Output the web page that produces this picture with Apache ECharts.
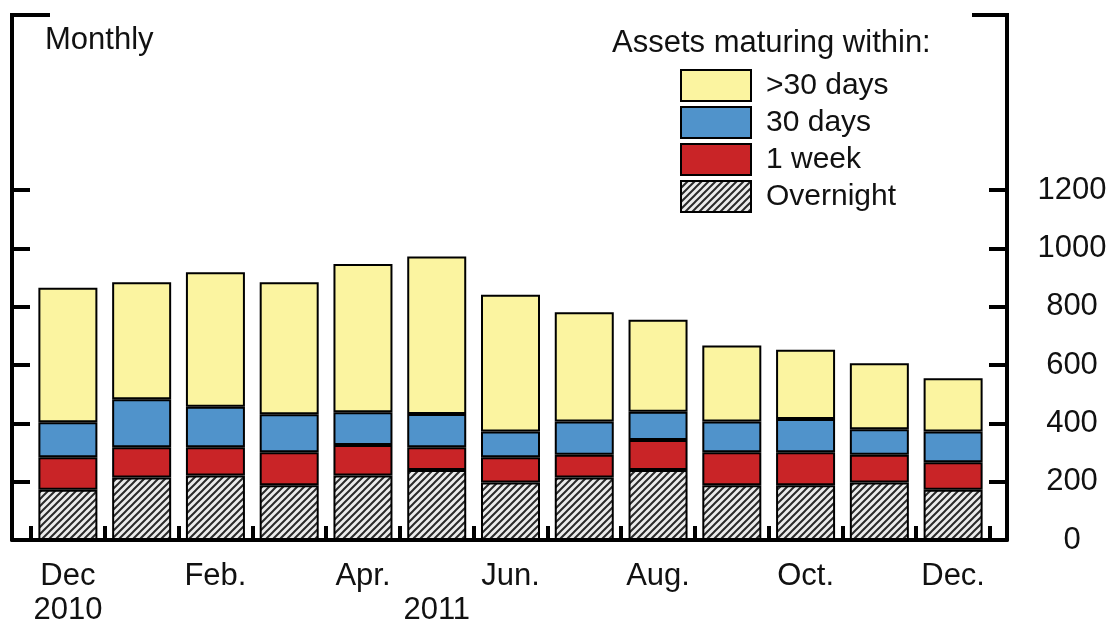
<!DOCTYPE html>
<html>
<head>
<meta charset="utf-8">
<script src="https://cdn.jsdelivr.net/npm/echarts@6/dist/echarts.min.js"></script>
<style>
  body { margin: 0; background: #fff; }
  #main { width: 1113px; height: 625px; }
</style>
</head>
<body>
<div id="main"></div>
<script>
// data (stack order: bottom to top)
const categories = ['Dec 2010', 'Jan', 'Feb', 'Mar', 'Apr', 'May', 'Jun', 'Jul', 'Aug', 'Sep', 'Oct', 'Nov', 'Dec'];
const xTickLabels = ['Dec\n2010', '', 'Feb.', '', 'Apr.', '\n2011', 'Jun.', '', 'Aug.', '', 'Oct.', '', 'Dec.'];
const yTicks = [0, 200, 400, 600, 800, 1000, 1200];

const overnight  = [172, 214, 221, 188, 221, 240, 197, 214, 240, 188, 188, 197, 172];
const oneWeek    = [112, 104,  97, 113, 105,  78,  87,  78, 103, 113, 113,  95,  95];
const thirtyDays = [120, 165, 139, 130, 112, 114,  88, 114,  97, 105, 114,  88, 105];
const over30     = [461, 401, 461, 453, 508, 540, 469, 375, 315, 261, 237, 226, 183];

const FONT = 'Liberation Sans, Arial, sans-serif';

// hatch pattern for the overnight bars
function hatch() {
  const s = 7;
  const c = document.createElement('canvas');
  c.width = s; c.height = s;
  const g = c.getContext('2d');
  g.fillStyle = '#ececec';
  g.fillRect(0, 0, s, s);
  g.strokeStyle = '#2a2a2a';
  g.lineWidth = 2;
  g.beginPath();
  g.moveTo(0, s); g.lineTo(s, 0);
  g.moveTo(-s / 2, s / 2); g.lineTo(s / 2, -s / 2);
  g.moveTo(s / 2, s * 1.5); g.lineTo(s * 1.5, s / 2);
  g.stroke();
  return c;
}

const chart = echarts.init(document.getElementById('main'));

const barBase = {
  type: 'bar',
  stack: 'total',
  xAxisIndex: 1,
  yAxisIndex: 2,
  barWidth: 59
};

const option = {
  animation: false,
  textStyle: { fontFamily: FONT },
  grid: [
    { left: 12, right: 106, top: 15, bottom: 85, outerBoundsMode: 'none' },   // frame
    { left: 31, right: 123, top: 15, bottom: 85, outerBoundsMode: 'none' }    // bars
  ],
  legend: {
    orient: 'vertical',
    left: 680,
    top: 69,
    padding: 0,
    itemWidth: 70,
    itemHeight: 31,
    itemGap: 4,
    icon: 'rect',
    selectedMode: false,
    data: ['>30 days', '30 days', '1 week', 'Overnight'],
    textStyle: { fontSize: 30, color: '#111', fontFamily: FONT, lineHeight: 31, padding: [0, 0, 0, 10] }
  },
  xAxis: [
    {
      gridIndex: 0, type: 'value', min: 0, max: 1,
      axisLine: { show: true, onZero: false, lineStyle: { color: '#000', width: 4 } },
      axisTick: { show: false }, axisLabel: { show: false }, splitLine: { show: false }
    },
    {
      gridIndex: 1, type: 'category', data: categories,
      axisLine: { show: false },
      axisTick: { show: true, inside: true, length: 14, interval: 0, lineStyle: { color: '#000', width: 4 } },
      axisLabel: {
        interval: 0, margin: 19, fontSize: 31, lineHeight: 34, color: '#111', fontFamily: FONT,
        formatter: (v, i) => xTickLabels[i]
      }
    }
  ],
  yAxis: [
    {
      gridIndex: 0, type: 'value', position: 'left', min: 0, max: 1800,
      axisLine: { show: true, onZero: false, lineStyle: { color: '#000', width: 4 } },
      axisTick: { show: true, inside: true, length: 18, customValues: yTicks, lineStyle: { color: '#000', width: 4 } },
      axisLabel: { show: false }, splitLine: { show: false }
    },
    {
      gridIndex: 0, type: 'value', position: 'right', min: 0, max: 1800,
      axisLine: { show: true, onZero: false, lineStyle: { color: '#000', width: 4 } },
      axisTick: { show: true, inside: true, length: 18, customValues: yTicks, lineStyle: { color: '#000', width: 4 } },
      axisLabel: {
        show: true, customValues: yTicks, margin: 65, align: 'center', fontSize: 31, color: '#111', fontFamily: FONT,
        formatter: v => String(v)
      },
      splitLine: { show: false }
    },
    { gridIndex: 1, type: 'value', min: 0, max: 1800, show: false }
  ],
  graphic: [
    { type: 'line', shape: { x1: 10, y1: 15, x2: 50, y2: 15 }, style: { stroke: '#000', lineWidth: 4 } },
    { type: 'line', shape: { x1: 972, y1: 15, x2: 1009, y2: 15 }, style: { stroke: '#000', lineWidth: 4 } },
    { type: 'text', x: 45, y: 40, style: { text: 'Monthly', font: '31px ' + FONT, fill: '#111', verticalAlign: 'middle' } },
    { type: 'text', x: 612, y: 43, style: { text: 'Assets maturing within:', font: '31px ' + FONT, fill: '#111', verticalAlign: 'middle' } }
  ],
  series: [
    Object.assign({}, barBase, { name: 'Overnight', data: overnight, itemStyle: { color: { image: hatch(), repeat: 'repeat' }, borderColor: '#000', borderWidth: 2 } }),
    Object.assign({}, barBase, { name: '1 week', data: oneWeek, itemStyle: { color: '#c92427', borderColor: '#000', borderWidth: 2 } }),
    Object.assign({}, barBase, { name: '30 days', data: thirtyDays, itemStyle: { color: '#5093cb', borderColor: '#000', borderWidth: 2 } }),
    Object.assign({}, barBase, { name: '>30 days', data: over30, itemStyle: { color: '#fbf4a0', borderColor: '#000', borderWidth: 2 } })
  ]
};

chart.setOption(option);
</script>
</body>
</html>
